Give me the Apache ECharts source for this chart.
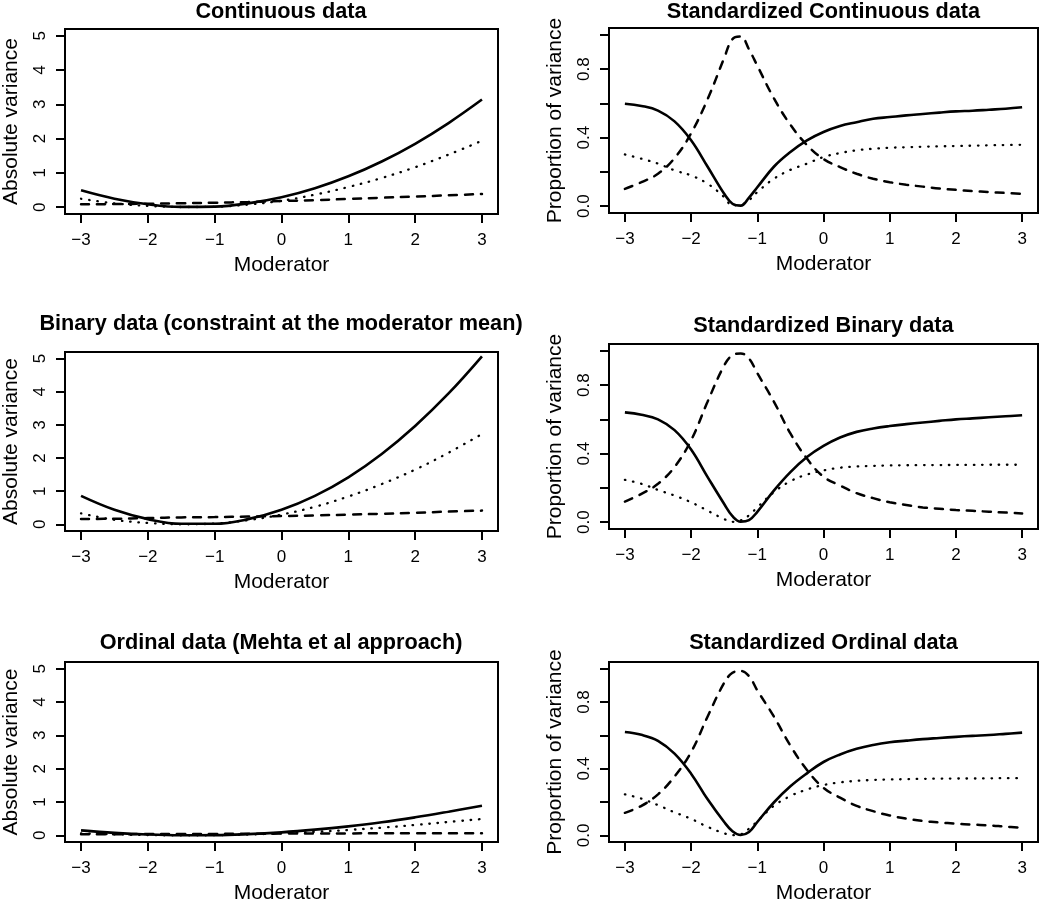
<!DOCTYPE html>
<html><head><meta charset="utf-8">
<script src="https://cdn.jsdelivr.net/npm/echarts@6/dist/echarts.min.js"></script>
<style>html,body{margin:0;padding:0;background:#fff}#c{width:1050px;height:905px}</style>
</head><body><div id="c"></div>
<script>
// ---- data ----
const xAbs = [-3,-2.5,-2,-1.5,-1,-0.5,0,0.5,1,1.5,2,2.5,3];
const xStd = [-3,-2.75,-2.5,-2.25,-2,-1.75,-1.5,-1.375,-1.25,-1.125,-1,-0.75,-0.5,-0.25,0,0.25,0.5,0.75,1,1.25,1.5,1.75,2,2.25,2.5,2.75,3];

const contSolid  = [0.49,0.245,0.083,0.007,0.015,0.11,0.287,0.551,0.9,1.333,1.85,2.455,3.14];
const contDotted = [0.246,0.111,0.039,0.004,0.011,0.075,0.187,0.365,0.588,0.852,1.165,1.533,1.938];
const contDashed = [0.085,0.09,0.1,0.115,0.13,0.15,0.178,0.205,0.24,0.275,0.31,0.345,0.385];

const binSolid  = [0.86,0.44,0.158,0.018,0.018,0.158,0.44,0.86,1.42,2.125,2.97,3.95,5.07];
const binDotted = [0.332,0.138,0.043,0.003,0.025,0.129,0.295,0.531,0.84,1.216,1.652,2.163,2.725];
const binDashed = [0.16,0.17,0.19,0.21,0.22,0.235,0.25,0.27,0.295,0.32,0.35,0.385,0.415];

const ordSolid  = [0.15,0.075,0.025,0.003,0.005,0.035,0.09,0.17,0.27,0.39,0.54,0.71,0.89];
const ordDotted = [0.06,0.03,0.008,0.001,0.005,0.025,0.062,0.105,0.162,0.23,0.31,0.4,0.49];
const ordDashed = [0.033,0.035,0.037,0.04,0.043,0.048,0.052,0.056,0.058,0.061,0.063,0.065,0.066];

const sContSolid  = [0.598,0.585,0.558,0.495,0.385,0.23,0.072,0.014,0.003,0.05,0.11,0.23,0.316,0.384,0.433,0.468,0.49,0.51,0.52,0.53,0.538,0.546,0.553,0.557,0.563,0.569,0.577];
const sContDashed = [0.101,0.14,0.189,0.28,0.425,0.625,0.865,0.975,0.99,0.915,0.82,0.63,0.475,0.357,0.275,0.228,0.189,0.16,0.14,0.125,0.114,0.103,0.095,0.088,0.082,0.077,0.072];
const sContDotted = [0.302,0.277,0.248,0.209,0.179,0.131,0.053,0.004,0.008,0.035,0.082,0.16,0.212,0.248,0.287,0.31,0.326,0.335,0.341,0.344,0.347,0.349,0.351,0.353,0.355,0.357,0.358];

const sBinSolid  = [0.641,0.627,0.6,0.537,0.424,0.263,0.106,0.035,0.003,0.012,0.06,0.184,0.292,0.38,0.445,0.494,0.527,0.547,0.561,0.572,0.582,0.591,0.6,0.606,0.612,0.618,0.624];
const sBinDashed = [0.12,0.165,0.224,0.322,0.478,0.704,0.915,0.975,0.985,0.955,0.87,0.704,0.518,0.371,0.265,0.214,0.169,0.14,0.116,0.1,0.086,0.078,0.071,0.066,0.061,0.056,0.051];
const sBinDotted = [0.247,0.224,0.188,0.155,0.116,0.067,0.018,0.002,0.01,0.04,0.086,0.175,0.239,0.278,0.302,0.318,0.325,0.328,0.331,0.332,0.333,0.333,0.334,0.334,0.335,0.335,0.335];

const sOrdSolid  = [0.62,0.603,0.567,0.49,0.37,0.216,0.08,0.025,0.002,0.02,0.08,0.197,0.294,0.372,0.44,0.485,0.519,0.542,0.558,0.568,0.577,0.584,0.591,0.597,0.602,0.609,0.616];
const sOrdDashed = [0.135,0.177,0.246,0.353,0.499,0.713,0.915,0.975,0.986,0.955,0.87,0.713,0.538,0.392,0.285,0.226,0.177,0.145,0.119,0.1,0.086,0.077,0.07,0.064,0.06,0.052,0.045];
const sOrdDotted = [0.246,0.22,0.181,0.138,0.099,0.051,0.012,0.001,0.006,0.04,0.084,0.177,0.236,0.275,0.302,0.318,0.327,0.332,0.335,0.337,0.339,0.34,0.341,0.341,0.342,0.343,0.343];

const titles = ['Continuous data','Standardized Continuous data','Binary data (constraint at the moderator mean)','Standardized Binary data','Ordinal data (Mehta et al approach)','Standardized Ordinal data'];
const xTicks = [-3,-2,-1,0,1,2,3];
const absTicks = [0,1,2,3,4,5];
const stdTicks = [0,0.2,0.4,0.6,0.8,1.0];
const stdLabels = [0,0.4,0.8];

// ---- layout ----
const FF = '"Liberation Sans", Arial, sans-serif';
const grids = [
  {left:64,  top:29,  width:434, height:185},
  {left:609, top:28,  width:429, height:185},
  {left:64,  top:352, width:434, height:179},
  {left:609, top:344, width:429, height:185},
  {left:64,  top:662, width:434, height:185},
  {left:609, top:662, width:429, height:184}
];
const titleTops = [1,1,313,315,632,632];

const panels = [
  {x:xAbs, s:contSolid, d:contDotted, e:contDashed, std:false},
  {x:xStd, s:sContSolid, d:sContDotted, e:sContDashed, std:true},
  {x:xAbs, s:binSolid, d:binDotted, e:binDashed, std:false},
  {x:xStd, s:sBinSolid, d:sBinDotted, e:sBinDashed, std:true},
  {x:xAbs, s:ordSolid, d:ordDotted, e:ordDashed, std:false},
  {x:xStd, s:sOrdSolid, d:sOrdDotted, e:sOrdDashed, std:true}
];

const minus = v => (v < 0 ? '\u2212' + Math.abs(v) : String(v));
const zip = (xs, ys) => xs.map((x, i) => [x, ys[i]]);

const option = {
  animation: false,
  backgroundColor: '#fff',
  title: titles.map((t, i) => ({
    text: t,
    left: grids[i].left + grids[i].width / 2,
    top: titleTops[i],
    textAlign: 'center',
    padding: 0,
    textStyle: {fontSize: 21.7, fontWeight: 'bold', color: '#000', fontFamily: FF}
  })),
  grid: grids.map(g => Object.assign({show: true, borderColor: '#000', borderWidth: 2, backgroundColor: 'transparent'}, g)),
  xAxis: grids.map((g, i) => ({
    type: 'value', gridIndex: i, min: -3.24, max: 3.24, position: 'bottom',
    name: 'Moderator', nameLocation: 'middle', nameGap: 41,
    nameTextStyle: {fontSize: 21, color: '#000', fontFamily: FF},
    axisLine: {show: false, onZero: false}, splitLine: {show: false},
    axisTick: {show: true, inside: false, length: 9, customValues: xTicks, lineStyle: {color: '#000', width: 2}},
    axisLabel: {show: true, customValues: xTicks, margin: 18, fontSize: 17, color: '#000', fontFamily: FF, formatter: minus}
  })),
  yAxis: panels.map((p, i) => ({
    type: 'value', gridIndex: i, position: 'left',
    min: p.std ? -0.04 : -0.2, max: p.std ? 1.04 : 5.2,
    name: p.std ? 'Proportion of variance' : 'Absolute variance',
    nameLocation: 'middle', nameGap: 43, nameRotate: 90,
    nameTextStyle: {fontSize: 21, color: '#000', fontFamily: FF},
    axisLine: {show: false, onZero: false}, splitLine: {show: false},
    axisTick: {show: true, inside: false, length: 9, customValues: p.std ? stdTicks : absTicks, lineStyle: {color: '#000', width: 2}},
    axisLabel: {show: true, customValues: p.std ? stdLabels : absTicks, rotate: 90, margin: 16, fontSize: 17, color: '#000', fontFamily: FF,
      formatter: v => p.std ? Number(v).toFixed(1) : String(v)}
  })),
  series: []
};

panels.forEach((p, i) => {
  const base = {type: 'line', xAxisIndex: i, yAxisIndex: i, showSymbol: false, symbol: 'none', smooth: 0.4, silent: true, clip: true};
  option.series.push(Object.assign({}, base, {data: zip(p.x, p.s), lineStyle: {color: '#000', width: 2.6, type: 'solid'}}));
  option.series.push(Object.assign({}, base, {data: zip(p.x, p.e), lineStyle: {color: '#000', width: 2.5, type: [8, 8], cap: 'round'}}));
  option.series.push(Object.assign({}, base, {data: zip(p.x, p.d), lineStyle: {color: '#000', width: 2.3, type: [0.5, 7.8], cap: 'round'}}));
});

const chart = echarts.init(document.getElementById('c'), null, {renderer: 'canvas'});
chart.setOption(option);
</script>
</body></html>
